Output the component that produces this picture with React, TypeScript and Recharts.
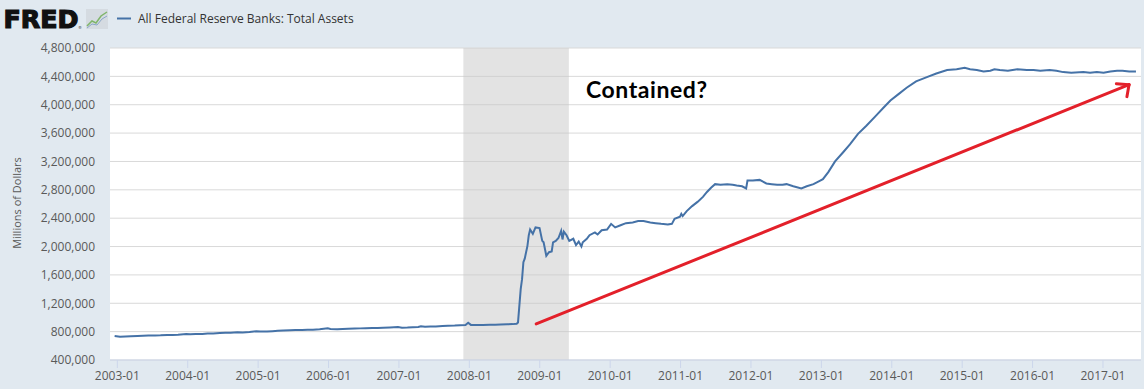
import { LineChart, Line, XAxis, YAxis, CartesianGrid, ReferenceArea, ReferenceLine } from 'recharts'

// weekly H.4.1 readings (Wednesday levels), millions of dollars
const dates = [
  '2002-12-18', '2003-01-15', '2003-02-12', '2003-03-12', '2003-04-16', '2003-05-14', '2003-06-11',
  '2003-07-16', '2003-08-13', '2003-09-17', '2003-10-15', '2003-11-12', '2003-12-24',
  '2004-01-14', '2004-02-11', '2004-03-17', '2004-04-14', '2004-05-12', '2004-06-16',
  '2004-07-14', '2004-08-11', '2004-09-15', '2004-10-13', '2004-11-17', '2004-12-22',
  '2005-01-12', '2005-02-16', '2005-03-16', '2005-04-13', '2005-05-11', '2005-06-15',
  '2005-07-13', '2005-08-17', '2005-09-14', '2005-10-12', '2005-11-16', '2005-12-28',
  '2006-01-11', '2006-02-15', '2006-03-15', '2006-04-12', '2006-05-17', '2006-06-14',
  '2006-07-12', '2006-08-16', '2006-09-13', '2006-10-11', '2006-11-15', '2006-12-27',
  '2007-01-17', '2007-02-14', '2007-03-14', '2007-04-11', '2007-04-25', '2007-05-16',
  '2007-06-13', '2007-07-11', '2007-08-15', '2007-09-12', '2007-10-17', '2007-11-14',
  '2007-12-12', '2007-12-26', '2008-01-09', '2008-02-13', '2008-03-12', '2008-04-16',
  '2008-05-14', '2008-06-11', '2008-07-16', '2008-08-13', '2008-09-03', '2008-09-10',
  '2008-09-24', '2008-10-01', '2008-10-08', '2008-10-15', '2008-10-29', '2008-11-05',
  '2008-11-12', '2008-11-26', '2008-12-10', '2008-12-31', '2009-01-14', '2009-01-21',
  '2009-02-04', '2009-02-18', '2009-03-04', '2009-03-11', '2009-03-25', '2009-04-08',
  '2009-04-22', '2009-04-29', '2009-05-06', '2009-05-20', '2009-06-03', '2009-06-24',
  '2009-07-08', '2009-07-22', '2009-08-05', '2009-08-12', '2009-09-02', '2009-09-16',
  '2009-10-14', '2009-10-28', '2009-11-18', '2009-12-16', '2010-01-06', '2010-01-27',
  '2010-02-24', '2010-03-24', '2010-04-28', '2010-05-26', '2010-06-23', '2010-07-28',
  '2010-08-25', '2010-09-22', '2010-10-27', '2010-11-17', '2010-12-01', '2010-12-29',
  '2011-01-05', '2011-01-12', '2011-02-02', '2011-03-02', '2011-03-30', '2011-04-27',
  '2011-05-18', '2011-06-08', '2011-06-29', '2011-07-27', '2011-08-31', '2011-09-28',
  '2011-10-19', '2011-11-16', '2011-12-07', '2011-12-14', '2012-01-11', '2012-02-15',
  '2012-03-21', '2012-04-18', '2012-05-16', '2012-06-13', '2012-07-04', '2012-08-08',
  '2012-09-19', '2012-10-17', '2012-11-21', '2012-12-26', '2013-01-09', '2013-02-06',
  '2013-03-13', '2013-04-24', '2013-05-29', '2013-07-10', '2013-08-21', '2013-10-09',
  '2013-11-20', '2013-12-25', '2014-02-05', '2014-03-19', '2014-05-07', '2014-07-02',
  '2014-08-20', '2014-10-15', '2014-12-03', '2015-01-14', '2015-02-11', '2015-03-18',
  '2015-04-22', '2015-05-27', '2015-06-17', '2015-07-15', '2015-08-26', '2015-10-14',
  '2015-12-02', '2016-01-06', '2016-02-10', '2016-03-30', '2016-05-04', '2016-06-08',
  '2016-07-20', '2016-09-21', '2016-10-26', '2016-11-30', '2017-01-04', '2017-02-08',
  '2017-03-15', '2017-04-12', '2017-05-17', '2017-06-21',
]

const assets = [
  740000, 728000, 732000, 735000, 738000, 741000, 744000,
  747000, 748000, 752000, 754000, 757000, 766000,
  762000, 765000, 768000, 772000, 775000, 780000,
  783000, 785000, 791000, 789000, 795000, 806000,
  801000, 803000, 807000, 812000, 815000, 818000,
  822000, 824000, 826000, 828000, 832000, 846000,
  836000, 834000, 838000, 842000, 844000, 846000,
  848000, 850000, 852000, 854000, 858000, 864000,
  856000, 858000, 862000, 866000, 876000, 868000,
  872000, 874000, 880000, 884000, 886000, 890000,
  892000, 925000, 895000, 893000, 895000, 897000,
  898000, 900000, 903000, 906000, 912000, 930000,
  1400000, 1540000, 1780000, 1830000, 2010000, 2160000,
  2240000, 2180000, 2270000, 2260000, 2080000, 2060000,
  1870000, 1920000, 1930000, 2060000, 2080000, 2120000,
  2220000, 2100000, 2210000, 2160000, 2080000, 2110000,
  2020000, 2070000, 2000000, 2060000, 2110000, 2160000,
  2200000, 2170000, 2230000, 2240000, 2320000, 2270000,
  2300000, 2330000, 2340000, 2360000, 2360000, 2340000,
  2330000, 2320000, 2310000, 2320000, 2390000, 2420000,
  2460000, 2430000, 2500000, 2570000, 2630000, 2700000,
  2770000, 2830000, 2880000, 2870000, 2880000, 2870000,
  2860000, 2850000, 2820000, 2930000, 2930000, 2940000,
  2890000, 2880000, 2870000, 2870000, 2880000, 2850000,
  2820000, 2850000, 2880000, 2930000, 2950000, 3050000,
  3200000, 3330000, 3440000, 3590000, 3700000, 3840000,
  3960000, 4060000, 4150000, 4240000, 4330000, 4390000,
  4440000, 4490000, 4500000, 4520000, 4500000, 4490000,
  4470000, 4480000, 4500000, 4490000, 4480000, 4500000,
  4490000, 4490000, 4480000, 4490000, 4480000, 4460000,
  4450000, 4460000, 4450000, 4460000, 4450000, 4470000,
  4480000, 4480000, 4470000, 4470000,
]

const yearTicks = [2003, 2004, 2005, 2006, 2007, 2008, 2009, 2010, 2011, 2012, 2013, 2014, 2015, 2016, 2017]
const valueTicks = [400000, 800000, 1200000, 1600000, 2000000, 2400000, 2800000, 3200000, 3600000, 4000000, 4400000, 4800000]

const recession = ['2007-12-01', '2009-06-01']

// hand-drawn red arrow, in [year, millions] pairs
const arrowShaft = [[2008.95, 908000], [2017.37, 4283000]]
const arrowArms = [[2017.19, 4297000], [2017.34, 4114000]]

const BLUE = '#4572a7'
const RED = '#e3202a'
const LABEL = '#595959'

function toYear(d: string) {
  const [y, m, day] = d.split('-').map(Number)
  const start = Date.UTC(y, 0, 1)
  const end = Date.UTC(y + 1, 0, 1)
  return y + (Date.UTC(y, m - 1, day) - start) / (end - start)
}

const data = dates.map((d, i) => ({ x: toYear(d), value: assets[i] }))

const tip = arrowShaft[1]

export default function App() {
  return (
    <div style={{ position: 'relative', width: 1144, height: 389, background: '#e1e9f0', fontFamily: '"Open Sans", sans-serif' }}>
      <style>{'body{margin:0}'}</style>
      <LineChart width={1144} height={389} data={data} margin={{ top: 48, right: 3, left: 0, bottom: 0 }}>
        <CartesianGrid vertical={false} stroke="#d9d9d9" fill="#fff" />
        <ReferenceArea
          x1={toYear(recession[0])}
          x2={toYear(recession[1])}
          fill="#c8c8c8"
          fillOpacity={0.5}
          stroke="none"
        />
        <XAxis
          dataKey="x"
          type="number"
          domain={[2002.896, 2017.54]}
          ticks={yearTicks}
          tickFormatter={(v: number) => `${v}-01`}
          allowDataOverflow
          height={29}
          tickSize={8}
          tickMargin={3}
          stroke="#ccd6eb"
          tick={{ fontSize: 12, fill: LABEL, fontFamily: '"Open Sans"' }}
        />
        <YAxis
          domain={[400000, 4800000]}
          ticks={valueTicks}
          tickFormatter={(v: number) => v.toLocaleString('en-US')}
          width={110}
          axisLine={false}
          tickLine={false}
          tickSize={0}
          tickMargin={15}
          tick={{ fontSize: 12, fill: LABEL, fontFamily: '"Open Sans"' }}
        />
        <Line
          dataKey="value"
          type="linear"
          stroke={BLUE}
          strokeWidth={2}
          dot={false}
          isAnimationActive={false}
        />
        <ReferenceLine
          segment={arrowShaft.map(([x, y]) => ({ x, y }))}
          stroke={RED}
          strokeWidth={3}
          strokeLinecap="round"
        />
        {arrowArms.map(([x, y], i) => (
          <ReferenceLine
            key={i}
            segment={[{ x: tip[0], y: tip[1] }, { x, y }]}
            stroke={RED}
            strokeWidth={3}
            strokeLinecap="round"
          />
        ))}
      </LineChart>

      <svg width={1144} height={389} style={{ position: 'absolute', left: 0, top: 0, pointerEvents: 'none' }}>
        {/* FRED logo */}
        <text x={3.5} y={28} fontFamily='"DejaVu Sans"' fontWeight={700} fontSize={24} fill="#111" stroke="#111" strokeWidth={1.2} textLength={75} lengthAdjust="spacingAndGlyphs">FRED</text>
        <text x={78} y={29} fontFamily='"DejaVu Sans"' fontSize={4} fill="#333">®</text>
        <rect x={86} y={9} width={22} height={20} fill="#d5dbe1" />
        <polyline points="87,26 92,21 96,23 101,16 107,12" fill="none" stroke="#7fb56a" strokeWidth={1.5} />
        <polyline points="87,28 92,24 97,25 102,19 107,16" fill="none" stroke="#8aa6c8" strokeWidth={1} />
        {/* legend */}
        <line x1={117} y1={18.5} x2={131} y2={18.5} stroke={BLUE} strokeWidth={2} />
        <text x={138} y={23} fontSize={12} fill="#333" fontFamily='"Open Sans"'>All Federal Reserve Banks: Total Assets</text>
        {/* y axis title */}
        <text x={21} y={203} fontSize={11} fill={LABEL} fontFamily='"Open Sans"' textAnchor="middle" transform="rotate(-90 21 203)">Millions of Dollars</text>
        {/* annotation */}
        <text x={586} y={98} fontSize={23} fontWeight={700} fill="#000" fontFamily="Lato" textLength={121}>Contained?</text>
      </svg>
    </div>
  )
}
